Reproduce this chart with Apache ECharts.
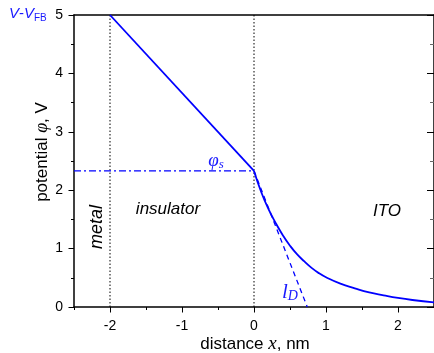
<!DOCTYPE html>
<html><head><meta charset="utf-8">
<script src="https://cdn.jsdelivr.net/npm/echarts@6/dist/echarts.min.js"></script>
<style>html,body{margin:0;padding:0;background:#fff}#c{width:434px;height:353px}</style>
</head><body><div id="c"></div>
<script>
// ---- data ----
const xTicks = [-2, -1, 0, 1, 2];
const xMinorTicks = [-2.5, -1.5, -0.5, 0.5, 1.5, 2.5];
const yTicks = [0, 1, 2, 3, 4, 5];
const insulatorX = [-2, 0];
const insulatorPhi = [5, 2.33];
const itoX = [0, 0.1, 0.2, 0.3, 0.4, 0.5, 0.6, 0.7, 0.8, 0.9, 1.0, 1.2, 1.4, 1.6, 1.8, 2.0, 2.2, 2.5];
const itoPhi = [2.33, 1.97, 1.68, 1.44, 1.23, 1.05, 0.90, 0.78, 0.67, 0.58, 0.51, 0.40, 0.32, 0.25, 0.20, 0.155, 0.12, 0.08];
const tangentX = [0, 0.74];
const tangentPhi = [2.33, 0];
const phiSX = [-2.5, 0];
const phiSValue = [2.33, 2.33];
const boundaryX = [-2, 0];
const boundaryPhi = [0, 5];

const BLUE = '#0000ff';
const TXTBLUE = '#1a1aff';
const SANS = '"Liberation Sans", Arial, sans-serif';
const SERIF = '"Liberation Serif", "Times New Roman", serif';

const zip = (a, b) => a.map((v, i) => [v, b[i]]);

const chart = echarts.init(document.getElementById('c'), null, {renderer: 'canvas'});
const axisLine = {show: true, onZero: false, lineStyle: {color: '#000', width: 1.5}};
const option = {
  animation: false,
  backgroundColor: '#fff',
  grid: {left: 74, top: 15, right: -2, bottom: 46, containLabel: false},
  xAxis: [
    {type: 'value', position: 'bottom', min: -2.5, max: 2.5,
     axisLine: axisLine,
     axisTick: {show: true, inside: false, length: 3, customValues: xMinorTicks, lineStyle: {color: '#000', width: 1}},
     axisLabel: {show: false}, splitLine: {show: false}},
    {type: 'value', position: 'bottom', min: -2.5, max: 2.5,
     axisLine: {show: false, onZero: false},
     axisTick: {show: true, inside: false, length: 5.5, customValues: xTicks, lineStyle: {color: '#000', width: 1}},
     axisLabel: {show: true, customValues: xTicks, margin: 12, fontSize: 14, fontFamily: SANS, color: '#000'},
     splitLine: {show: false}},
    {type: 'value', position: 'top', min: -2.5, max: 2.5,
     axisLine: axisLine, axisTick: {show: false}, axisLabel: {show: false}, splitLine: {show: false}}
  ],
  yAxis: [
    {type: 'value', position: 'left', min: 0, max: 5, interval: 1,
     axisLine: axisLine,
     axisTick: {show: true, inside: false, length: 5.5, lineStyle: {color: '#000', width: 1}},
     minorTick: {show: true, splitNumber: 2, length: 3, lineStyle: {color: '#000', width: 1}},
     axisLabel: {show: true, margin: 11, fontSize: 14, fontFamily: SANS, color: '#000'},
     splitLine: {show: false}},
    {type: 'value', position: 'right', min: 0, max: 5, interval: 1,
     axisLine: axisLine,
     axisTick: {show: true, inside: true, length: 7, lineStyle: {color: '#000', width: 1}},
     minorTick: {show: true, splitNumber: 2, length: 4, lineStyle: {color: '#666', width: 1}},
     axisLabel: {show: false}, splitLine: {show: false}}
  ],
  series: [
    {type: 'line', data: zip([boundaryX[0], boundaryX[0]], boundaryPhi), symbol: 'none', silent: true,
     lineStyle: {color: '#000', width: 1, type: [1.5, 2]}},
    {type: 'line', data: zip([boundaryX[1], boundaryX[1]], boundaryPhi), symbol: 'none', silent: true,
     lineStyle: {color: '#000', width: 1, type: [1.5, 2]}},
    {type: 'line', data: zip(phiSX, phiSValue), symbol: 'none',
     lineStyle: {color: BLUE, width: 1.2, type: [7, 3, 2, 3]}},
    {type: 'line', data: zip(tangentX, tangentPhi), symbol: 'none',
     lineStyle: {color: BLUE, width: 1.3, type: [5, 4]}},
    {type: 'line', data: zip(insulatorX, insulatorPhi), symbol: 'none',
     lineStyle: {color: BLUE, width: 1.8}},
    {type: 'line', data: zip(itoX, itoPhi), symbol: 'none', smooth: true,
     lineStyle: {color: BLUE, width: 1.8}}
  ],
  graphic: [
    {type: 'text', left: 9, top: 6, style: {
      text: '{v|V}{n|-}{v|V}{s|FB}', fill: TXTBLUE,
      rich: {
        v: {fontSize: 15, fontStyle: 'italic', fontFamily: SANS, fill: TXTBLUE},
        n: {fontSize: 15, fontFamily: SANS, fill: TXTBLUE},
        s: {fontSize: 10, fontFamily: SANS, fill: TXTBLUE, padding: [9, 0, 0, 0]}
      }}},
    {type: 'text', x: 42, y: 152, rotation: Math.PI / 2, style: {
      text: '{a|potential }{p|φ}{a|, V}', align: 'center', verticalAlign: 'middle',
      rich: {
        a: {fontSize: 17, fontFamily: SANS, fill: '#000'},
        p: {fontSize: 18, fontFamily: SERIF, fontStyle: 'italic', fill: '#000'}
      }}},
    {type: 'text', x: 255, y: 344, style: {
      text: '{a|distance }{p|x}{a|, nm}', align: 'center', verticalAlign: 'middle',
      rich: {
        a: {fontSize: 17, fontFamily: SANS, fill: '#000'},
        p: {fontSize: 19, fontFamily: SERIF, fontStyle: 'italic', fill: '#000'}
      }}},
    {type: 'text', x: 168, y: 209, style: {
      text: 'insulator', align: 'center', verticalAlign: 'middle',
      font: 'italic 17px ' + SANS, fill: '#000'}},
    {type: 'text', x: 387, y: 211, style: {
      text: 'ITO', align: 'center', verticalAlign: 'middle',
      font: 'italic 17px ' + SANS, fill: '#000'}},
    {type: 'text', x: 97, y: 227, rotation: Math.PI / 2, style: {
      text: 'metal', align: 'center', verticalAlign: 'middle',
      font: 'italic 18px ' + SANS, fill: '#000'}},
    {type: 'text', x: 216, y: 161, style: {
      text: '{p|φ}{s|s}', align: 'center', verticalAlign: 'middle',
      rich: {
        p: {fontSize: 19, fontFamily: SERIF, fontStyle: 'italic', fill: TXTBLUE},
        s: {fontSize: 13, fontFamily: SERIF, fontStyle: 'italic', fill: TXTBLUE, padding: [7, 0, 0, 0]}
      }}},
    {type: 'text', x: 290, y: 292, style: {
      text: '{p|l}{s|D}', align: 'center', verticalAlign: 'middle',
      rich: {
        p: {fontSize: 21, fontFamily: SERIF, fontStyle: 'italic', fill: TXTBLUE},
        s: {fontSize: 14, fontFamily: SERIF, fontStyle: 'italic', fill: TXTBLUE, padding: [8, 0, 0, 0]}
      }}}
  ]
};
chart.setOption(option);
</script>
</body></html>
